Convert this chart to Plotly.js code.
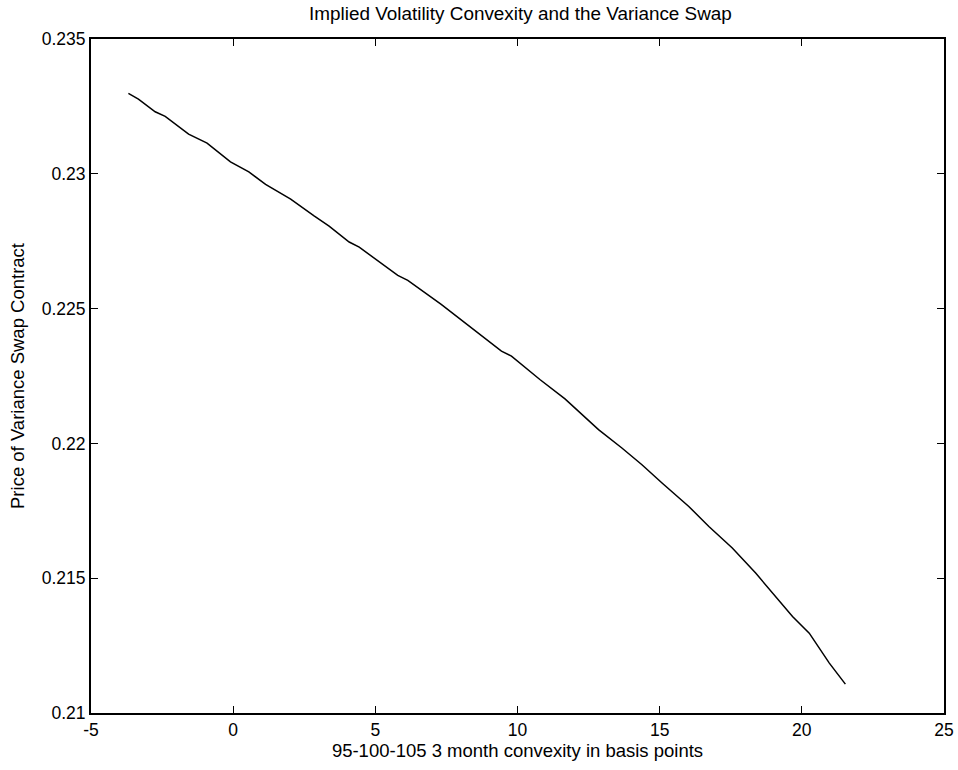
<!DOCTYPE html>
<html>
<head>
<meta charset="utf-8">
<script src="https://cdn.plot.ly/plotly-3.0.1.min.js"></script>
<style>html,body{margin:0;padding:0;background:#fff;}#chart{width:958px;height:770px;}</style>
</head>
<body>
<div id="chart"></div>
<script>
const convexity = [-3.685, -3.332, -2.743, -2.390, -1.567, -0.918, -0.095, 0.551, 1.140, 2.023, 2.845, 3.374, 4.080, 4.433, 5.789, 6.142, 7.317, 9.435, 9.788, 10.787, 11.670, 12.083, 12.849, 13.671, 14.377, 15.083, 16.025, 16.731, 17.554, 18.376, 19.082, 19.672, 20.261, 20.967, 21.532];
const swapPrice = [0.23298, 0.23277, 0.23230, 0.23213, 0.23147, 0.23114, 0.23044, 0.23007, 0.22961, 0.22906, 0.22844, 0.22806, 0.22747, 0.22728, 0.22623, 0.22605, 0.22516, 0.22342, 0.22324, 0.22237, 0.22165, 0.22126, 0.22051, 0.21983, 0.21921, 0.21853, 0.21766, 0.21692, 0.21612, 0.21519, 0.21432, 0.21358, 0.21296, 0.21185, 0.21107];
const xTicks = [-5, 0, 5, 10, 15, 20, 25];
const yTicks = [0.21, 0.215, 0.22, 0.225, 0.23, 0.235];

const FONT = 'Liberation Sans, Arial, sans-serif';
const trace = {
  x: convexity, y: swapPrice, type: 'scatter', mode: 'lines',
  line: {color: '#000', width: 1.5}, hoverinfo: 'none'
};
const axisCommon = {
  showgrid: false, zeroline: false, showline: true, mirror: 'ticks',
  linecolor: '#000', linewidth: 2, ticks: 'inside', ticklen: 7, tickwidth: 1.2,
  tickcolor: '#000', tickfont: {family: FONT, size: 17.5, color: '#000'}
};
const layout = {
  width: 958, height: 770,
  margin: {l: 91, r: 14, t: 39, b: 57},
  paper_bgcolor: '#fff', plot_bgcolor: '#fff',
  showlegend: false,
  font: {family: FONT, color: '#000'},
  title: {text: 'Implied Volatility Convexity and the Variance Swap', font: {family: FONT, size: 18.9, color: '#000'}, x: 0.5433, xanchor: 'center', y: 0.983, yanchor: 'middle'},
  xaxis: Object.assign({}, axisCommon, {
    range: [-5, 25], tickvals: xTicks, ticktext: xTicks.map(String),
    title: {text: '95-100-105 3 month convexity in basis points', font: {family: FONT, size: 18.5, color: '#000'}, standoff: 5}
  }),
  yaxis: Object.assign({}, axisCommon, {
    range: [0.21, 0.235], tickvals: yTicks, ticktext: yTicks.map(String),
    title: {text: 'Price of Variance Swap Contract', font: {family: FONT, size: 18.5, color: '#000'}, standoff: 12}
  })
};
Plotly.newPlot('chart', [trace], layout, {displayModeBar: false, staticPlot: true});
</script>
</body>
</html>
